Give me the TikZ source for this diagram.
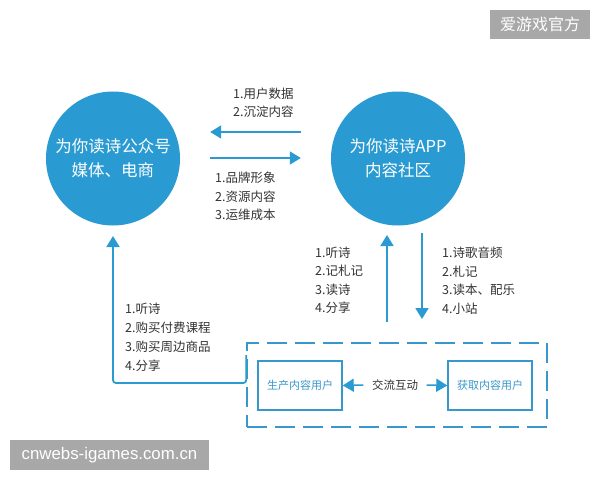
\documentclass[tikz,border=0pt]{standalone}
\usepackage{fontspec}
\setmainfont{Noto Sans CJK SC}
\newfontfamily\latinfont{Liberation Sans}
\usetikzlibrary{arrows.meta}
\definecolor{cblue}{HTML}{2A9BD2}
\definecolor{lblue}{HTML}{3898CB}
\definecolor{tgray}{HTML}{333333}
\definecolor{wgray}{HTML}{A8A8A8}
\begin{document}
\begin{tikzpicture}[x=1pt,y=-1pt,
  hub/.style={circle, fill=cblue, draw=none, minimum size=134pt, inner sep=0pt, text=white, align=center, font=\fontsize{16.5}{24}\selectfont},
  lbl/.style={anchor=west, inner sep=0pt, align=left, text=tgray, font=\fontsize{12.5}{18.5}\selectfont},
  userbox/.style={draw=lblue, line width=1.5pt, minimum width=84pt, minimum height=49pt, inner sep=0pt, text=lblue, font=\fontsize{11}{13}\selectfont},
  flow/.style={draw=cblue, line width=1.8pt, -{Triangle[length=11pt,width=13pt]}},
  wm/.style={fill=wgray, text=white, inner sep=0pt}
]
\useasboundingbox[fill=white] (0,0) rectangle (600,480);
% hubs
\node[hub] (pub) at (113,158.5) {为你读诗公众号\\媒体、电商};
\node[hub] (app) at (398,158.5) {为你读诗APP\\内容社区};
% horizontal arrows
\draw[flow] ([xshift=-30pt,yshift=26.5pt]app.west) -- ([xshift=30pt,yshift=26.5pt]pub.east);
\draw[flow] ([xshift=30pt,yshift=0.5pt]pub.east) -- ([xshift=-30pt,yshift=0.5pt]app.west);
\node[lbl] (t1) at (233,102.5) {1.用户数据\\2.沉淀内容};
\node[lbl] (t2) at (215,196.5) {1.品牌形象\\2.资源内容\\3.运维成本};
% vertical arrows
\coordinate (upS) at (387,322);
\coordinate (upE) at (387,235);
\coordinate (dnS) at (422,233);
\coordinate (dnE) at (422,319);
\draw[flow] (upS) -- (upE);
\draw[flow] (dnS) -- (dnE);
\node[lbl] (t3) at (315,280.5) {1.听诗\\2.记札记\\3.读诗\\4.分享};
\node[lbl] (t4) at (442,280.5) {1.诗歌音频\\2.札记\\3.读本、配乐\\4.小站};
% group box
\node[draw=lblue, line width=1.5pt, dash pattern=on 20pt off 8pt, minimum width=300pt, minimum height=84pt, inner sep=0pt] (grp) at (397,385) {};
\node[userbox] (prod) at (300,385.5) {生产内容用户};
\node[userbox] (cons) at (490,385.5) {获取内容用户};
\node[inner ysep=0pt, inner xsep=8.5pt, text=tgray, font=\fontsize{11.5}{13}\selectfont] (mid) at (395,385) {交流互动};
\draw[flow, line width=1.5pt] (mid.west) -- (prod.east);
\draw[flow, line width=1.5pt] (mid.east) -- (cons.west);
% feedback connector
\coordinate (pubtip) at (113,236);
\draw[flow, rounded corners=3pt] ([yshift=30pt]grp.west) -- ([yshift=2pt]grp.west) -| (pubtip);
\node[lbl, font=\fontsize{12.5}{19}\selectfont] (t5) at (125,337.5) {1.听诗\\2.购买付费课程\\3.购买周边商品\\4.分享};
% watermarks
\node[wm, minimum width=100pt, minimum height=29pt, font=\fontsize{16}{18}\selectfont] (wm1) at (540,24.5) {爱游戏官方};
\node[wm, minimum width=199pt, minimum height=30pt, font=\latinfont\fontsize{16.8}{18}\selectfont] (wm2) at (109.5,455) {cnwebs-igames.com.cn};
\end{tikzpicture}
\end{document}
